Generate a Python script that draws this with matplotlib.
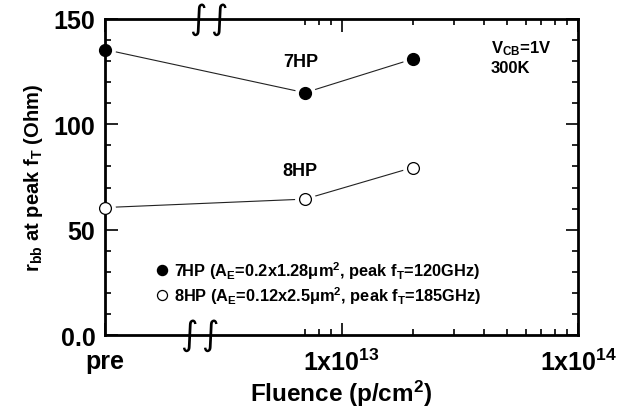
import numpy as np
import matplotlib.pyplot as plt
from matplotlib.ticker import FixedLocator, FixedFormatter

plt.rcParams['font.family'] = ['Liberation Sans', 'DejaVu Sans']
plt.rcParams['font.weight'] = 'bold'
plt.rcParams['mathtext.default'] = 'regular'

# data (pre-irradiation plotted at 1e12)
fluence = [1e12, 7e12, 2e13]
rbb_7hp = [135.5, 115.0, 131.0]
rbb_8hp = [60.5, 64.5, 79.5]

xticks = [1e12, 1e13, 1e14]
xtick_labels = ["pre", "1x10$^{13}$", "1x10$^{14}$"]
xminor = [7e12, 8e12, 9e12] + [k * 1e13 for k in range(2, 10)]
yticks = [0, 50, 100, 150]
ytick_labels = ["0.0", "50", "100", "150"]

fig = plt.figure(figsize=(6.23, 4.14), dpi=100)
ax = fig.add_axes([0.1685, 0.1884, 0.7595, 0.7633])

# lines first, white halo markers to leave a small gap, then real markers
for y in (rbb_7hp, rbb_8hp):
    ax.plot(fluence, y, '-', color='#222222', lw=0.8, zorder=1)
    ax.plot(fluence, y, 'o', ms=15, color='white', mec='none', zorder=1.5)
ax.plot(fluence, rbb_7hp, 'o', ms=8.5, color='black', zorder=4, clip_on=False,
        label=r"7HP (A$_E$=0.2x1.28μm$^2$, peak f$_T$=120GHz)")
ax.plot(fluence, rbb_8hp, 'o', ms=8.5, mfc='white', mec='black', mew=0.9, zorder=4,
        clip_on=False, label=r"8HP (A$_E$=0.12x2.5μm$^2$, peak f$_T$=185GHz)")

ax.set_xscale('log')
ax.set_xlim(1e12, 1e14)
ax.set_ylim(0, 150)
ax.xaxis.set_major_locator(FixedLocator(xticks))
ax.xaxis.set_major_formatter(FixedFormatter(xtick_labels))
ax.xaxis.set_minor_locator(FixedLocator(xminor))
ax.xaxis.set_minor_formatter(FixedFormatter([""] * len(xminor)))
ax.set_yticks(yticks)
ax.set_yticklabels(ytick_labels)
ax.yaxis.set_minor_locator(FixedLocator(np.arange(0, 151, 10)))

ax.tick_params(which='both', direction='in', top=True, right=True, width=1.2)
ax.tick_params(which='major', length=9, labelsize=18)
ax.tick_params(axis='x', which='major', pad=10)
ax.tick_params(axis='y', which='major', pad=7)
ax.tick_params(which='minor', length=4)
for s in ax.spines.values():
    s.set_linewidth(2)

ax.set_xlabel("Fluence (p/cm$^2$)", fontsize=17.5, fontweight='bold', labelpad=2)
ax.set_ylabel("r$_{bb}$ at peak f$_T$ (Ohm)", fontsize=14.5, fontweight='bold', labelpad=6)

ax.text(6.7e12, 130, "7HP", fontsize=13, fontweight='bold', ha='center', va='center')
ax.text(6.7e12, 78, "8HP", fontsize=13, fontweight='bold', ha='center', va='center')
ax.text(0.815, 0.94, "V$_{CB}$=1V\n300K", transform=ax.transAxes, fontsize=12,
        fontweight='bold', ha='left', va='top', linespacing=1.25)

# axis break marks
ax.text(2.75e12, 150, r"$\int\,\int$", fontsize=17, ha='center', va='center', clip_on=False)
ax.text(2.5e12, 0, r"$\int\,\int$", fontsize=17, ha='center', va='center', clip_on=False)

ax.legend(loc='lower left', bbox_to_anchor=(0.073, 0.045), frameon=False, fontsize=11.8,
          handletextpad=0.2, handlelength=1.0, labelspacing=0.2, markerscale=0.85)

fig.savefig("out.png", dpi=100)
